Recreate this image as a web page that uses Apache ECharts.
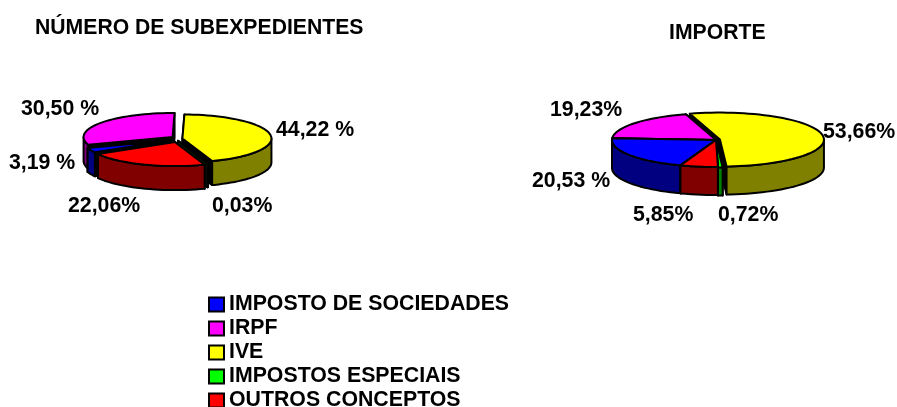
<!DOCTYPE html>
<html>
<head>
<meta charset="utf-8">
<style>
html, body { margin: 0; padding: 0; background: #fff; }
#chart { width: 897px; height: 407px; }
</style>
<script src="https://cdn.jsdelivr.net/npm/echarts@6/dist/echarts.min.js"></script>
</head>
<body>
<div id="chart"></div>
<script>
var categories = ['IMPOSTO DE SOCIEDADES', 'IRPF', 'IVE', 'IMPOSTOS ESPECIAIS', 'OUTROS CONCEPTOS']
var subexpedientes = [3.19, 30.50, 44.22, 0.03, 22.06]
var importe = [20.53, 19.23, 53.66, 0.72, 5.85]
var subexpedientesLabels = ['3,19 %', '30,50 %', '44,22 %', '0,03%', '22,06%']
var importeLabels = ['20,53 %', '19,23%', '53,66%', '0,72%', '5,85%']
var topColors = ['#0000ff', '#ff00ff', '#ffff00', '#00ff00', '#ff0000']
var sideColors = ['#000080', '#800080', '#808000', '#008000', '#800000']
var faceColors = ['#000', '#000', '#000', '#003000', '#000']

// layout of the two fake 3d pies, startAngle is clockwise from 12 o'clock
// drawOrder is back to front, painter style
var pies = [
  {
    values: subexpedientes, labels: subexpedientesLabels,
    cx: 177, cy: 139, rx: 89, ry: 24, depth: 24, startAngle: -120,
    explode: [5.5, 5.5, 5.5, 3, 5.5], drawOrder: [2, 1, 0, 3, 4],
    labelPos: [[9, 163], [21, 109], [276, 130], [212, 206], [68, 206]]
  },
  {
    values: importe, labels: importeLabels,
    cx: 716, cy: 140, rx: 104, ry: 27, depth: 28, startAngle: -160,
    explode: [0, 0, 4, 1, 0], drawOrder: [2, 1, 0, 3, 4],
    labelPos: [[532, 181], [550, 110], [823, 132], [718, 215], [633, 215]]
  }
]
var fontFamily = 'Liberation Sans, Arial, sans-serif'

function rimPoint(p, ox, oy, deg, down) {
  var a = deg * Math.PI / 180
  return [ox + p.rx * Math.sin(a), oy - p.ry * Math.cos(a) + (down || 0)]
}

function slicePolys(p, idx) {
  var total = p.values.reduce(function (s, v) { return s + v }, 0)
  var from = p.startAngle
  for (var i = 0; i < idx; i++) from += p.values[i] / total * 360
  var to = from + p.values[idx] / total * 360
  var mid = (from + to) / 2 * Math.PI / 180
  var ox = p.cx + p.explode[idx] * Math.sin(mid)
  var oy = p.cy - p.explode[idx] * 0.6 * Math.cos(mid)

  var top = [[ox, oy]]
  for (var d = from; d < to; d += 3) top.push(rimPoint(p, ox, oy, d))
  top.push(rimPoint(p, ox, oy, to))

  // outer wall only on the part of the rim that faces the viewer
  var walls = []
  ;[-360, 0, 360].forEach(function (shift) {
    var a = Math.max(from, 90 + shift)
    var b = Math.min(to, 270 + shift)
    if (a >= b) return
    var upper = []
    var lower = []
    for (var d = a; d < b; d += 3) {
      upper.push(rimPoint(p, ox, oy, d))
      lower.unshift(rimPoint(p, ox, oy, d, p.depth))
    }
    upper.push(rimPoint(p, ox, oy, b))
    lower.unshift(rimPoint(p, ox, oy, b, p.depth))
    walls.push(upper.concat(lower))
  })

  var faces = [from, to].map(function (d) {
    var r = rimPoint(p, ox, oy, d)
    return [[ox, oy], r, [r[0], r[1] + p.depth], [ox, oy + p.depth]]
  })
  return { top: top, walls: walls, faces: faces }
}

function renderSlice(params, api) {
  var p = pies[api.value(0)]
  var idx = params.seriesIndex
  var s = slicePolys(p, idx)
  var base = p.drawOrder.indexOf(idx) * 3 + 10
  var line = { stroke: '#000', lineWidth: 2, lineJoin: 'round' }
  var children = []
  s.faces.forEach(function (pts) {
    children.push({ type: 'polygon', z2: base, shape: { points: pts }, style: Object.assign({ fill: faceColors[idx] }, line) })
  })
  s.walls.forEach(function (pts) {
    children.push({ type: 'polygon', z2: base + 1, shape: { points: pts }, style: Object.assign({ fill: sideColors[idx] }, line) })
  })
  children.push({ type: 'polygon', z2: base + 2, shape: { points: s.top }, style: Object.assign({ fill: topColors[idx] }, line) })
  children.push({
    type: 'text', z2: 1000,
    style: {
      x: p.labelPos[idx][0], y: p.labelPos[idx][1], text: p.labels[idx],
      fill: '#000', font: 'bold 21.3px ' + fontFamily, textVerticalAlign: 'middle'
    }
  })
  return { type: 'group', children: children }
}

var chart = echarts.init(document.getElementById('chart'), null, { renderer: 'canvas' })
chart.setOption({
  animation: false,
  backgroundColor: '#fff',
  title: [
    { text: 'NÚMERO DE SUBEXPEDIENTES', left: 35, top: 18, padding: 0, textStyle: { fontFamily: fontFamily, fontSize: 21.2, fontWeight: 'bold', color: '#000' } },
    { text: 'IMPORTE', left: 669, top: 23, padding: 0, textStyle: { fontFamily: fontFamily, fontSize: 21.2, fontWeight: 'bold', color: '#000' } }
  ],
  legend: {
    orient: 'vertical',
    left: 208,
    top: 294,
    height: 130,
    padding: 0,
    itemWidth: 15,
    itemHeight: 14,
    itemGap: 3,
    icon: 'rect',
    selectedMode: false,
    data: categories,
    itemStyle: { borderColor: '#000', borderWidth: 2 },
    textStyle: { fontFamily: fontFamily, fontSize: 21.3, fontWeight: 'bold', color: '#000' }
  },
  series: categories.map(function (name, i) {
    return {
      type: 'custom',
      name: name,
      coordinateSystem: 'none',
      silent: true,
      itemStyle: { color: topColors[i] },
      renderItem: renderSlice,
      data: [[0, subexpedientes[i]], [1, importe[i]]]
    }
  })
})
</script>
</body>
</html>
